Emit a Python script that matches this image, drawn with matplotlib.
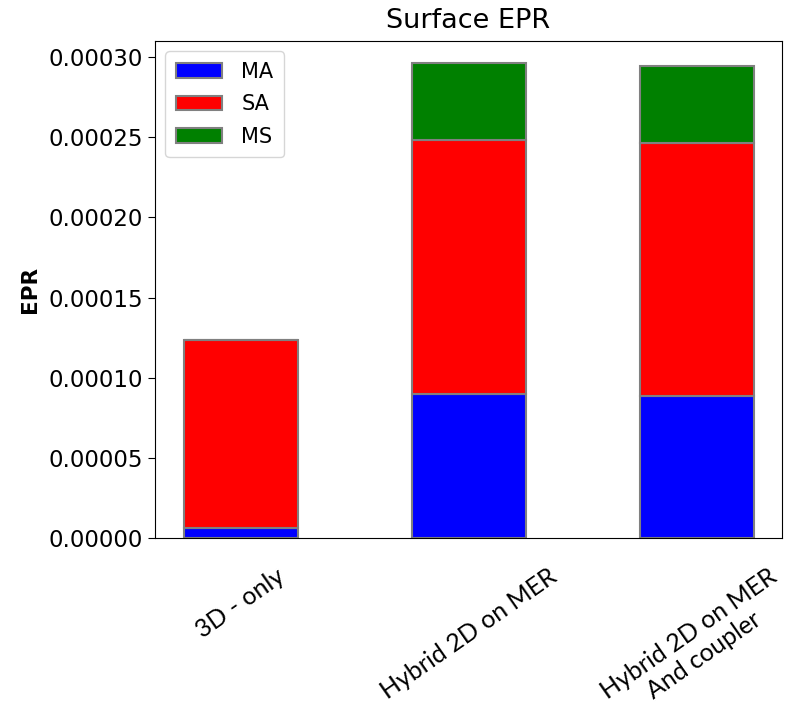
import matplotlib
matplotlib.use("Agg")
import matplotlib.pyplot as plt
import numpy as np

categories = ["3D - only", "Hybrid 2D on MER", "Hybrid 2D on MER\nAnd coupler"]
ma = [6.3e-6, 8.96e-5, 8.85e-5]
sa = [1.173e-4, 1.589e-4, 1.581e-4]
ms = [0.0, 4.77e-5, 4.76e-5]
yticks = [0.0, 0.00005, 0.00010, 0.00015, 0.00020, 0.00025, 0.00030]

fig = plt.figure(figsize=(7.87, 7.04), dpi=100)
ax = fig.add_axes([155/787, (704-538)/704, (782-155)/787, (538-41)/704])

x = np.arange(len(categories))
ma_a = np.array(ma); sa_a = np.array(sa); ms_a = np.array(ms)
ax.bar(x, ma_a, 0.5, color="blue", edgecolor="gray", linewidth=1.5, label="MA")
ax.bar(x, sa_a, 0.5, bottom=ma_a, color="red", edgecolor="gray", linewidth=1.5, label="SA")
ax.bar(x, ms_a, 0.5, bottom=ma_a + sa_a, color="green", edgecolor="gray", linewidth=1.5, label="MS")

ax.set_ylim(0, 0.00031)
ax.set_yticks(yticks)
ax.set_yticklabels([f"{v:.5f}" for v in yticks])
ax.tick_params(axis="y", labelsize=16.5, length=5)
ax.set_xticks(x)
ax.set_xticklabels(categories, rotation=35, ha="center", fontsize=18, family=["Lato", "DejaVu Sans"])
ax.tick_params(axis="x", length=0, pad=19)

ax.set_ylabel("EPR", fontsize=15.5, fontweight="bold", labelpad=6)
ax.set_title("Surface EPR", fontsize=19.5, pad=9)
ax.legend(loc="upper left", fontsize=15, handlelength=2.2, borderpad=0.5,
          labelspacing=0.6, handletextpad=0.95)

fig.savefig("out.png", dpi=100)
